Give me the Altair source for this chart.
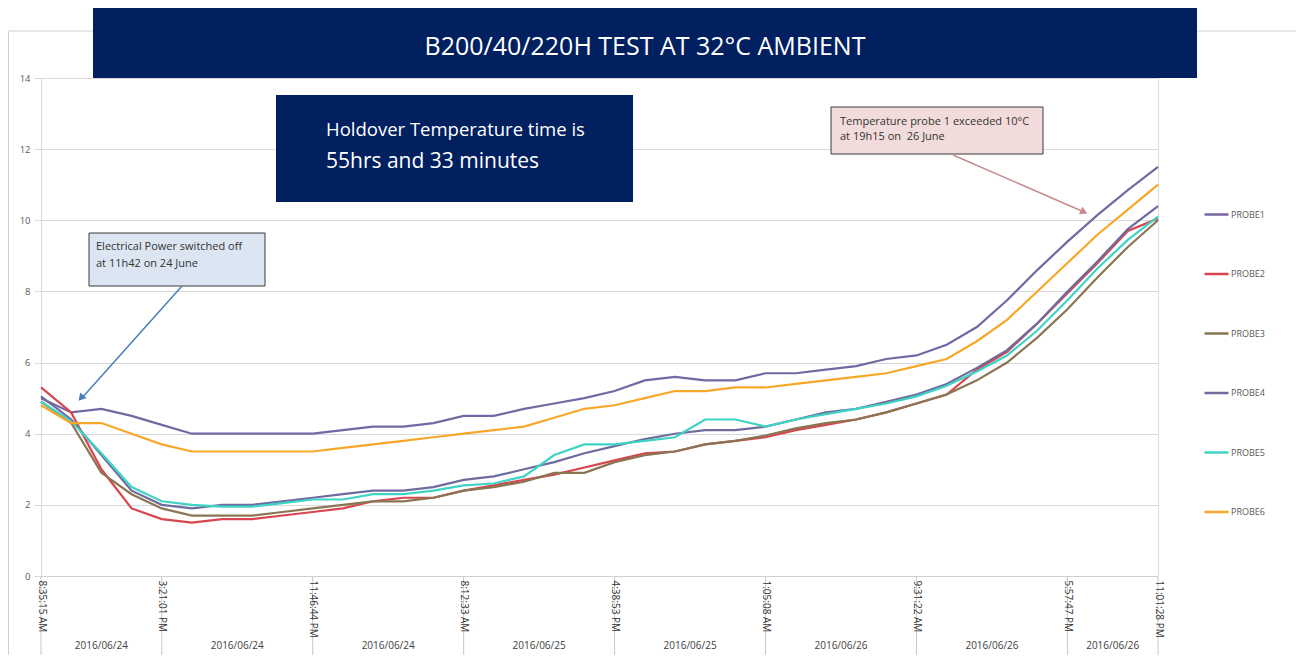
import altair as alt
import pandas as pd

# ---------------- data ----------------
probes = ["PROBE1", "PROBE2", "PROBE3", "PROBE4", "PROBE5", "PROBE6"]
colors = ["#7667a3", "#d9454f", "#8a7553", "#6e6b9e", "#3fd3c6", "#f7a829"]

probe1 = [5.0, 4.6, 4.7, 4.5, 4.25, 4.0, 4.0, 4.0, 4.0, 4.0, 4.1, 4.2, 4.2, 4.3, 4.5, 4.5, 4.7, 4.85, 5.0, 5.2,
          5.5, 5.6, 5.5, 5.5, 5.7, 5.7, 5.8, 5.9, 6.1, 6.2, 6.5, 7.0, 7.75, 8.6, 9.4, 10.15, 10.85, 11.5]
probe2 = [5.3, 4.6, 3.0, 1.9, 1.6, 1.5, 1.6, 1.6, 1.7, 1.8, 1.9, 2.1, 2.2, 2.2, 2.4, 2.55, 2.7, 2.85, 3.05, 3.25,
          3.45, 3.5, 3.7, 3.8, 3.9, 4.1, 4.25, 4.4, 4.6, 4.85, 5.1, 5.8, 6.3, 7.1, 7.95, 8.8, 9.7, 10.05]
probe3 = [4.9, 4.3, 2.9, 2.3, 1.9, 1.7, 1.7, 1.7, 1.8, 1.9, 2.0, 2.1, 2.1, 2.2, 2.4, 2.5, 2.65, 2.9, 2.9, 3.2,
          3.4, 3.5, 3.7, 3.8, 3.95, 4.15, 4.3, 4.4, 4.6, 4.85, 5.1, 5.5, 6.0, 6.7, 7.5, 8.4, 9.25, 10.0]
probe4 = [5.05, 4.4, 3.4, 2.4, 2.0, 1.9, 2.0, 2.0, 2.1, 2.2, 2.3, 2.4, 2.4, 2.5, 2.7, 2.8, 3.0, 3.2, 3.45, 3.65,
          3.85, 4.0, 4.1, 4.1, 4.2, 4.4, 4.6, 4.7, 4.9, 5.1, 5.4, 5.85, 6.35, 7.1, 8.0, 8.85, 9.75, 10.4]
probe5 = [4.9, 4.35, 3.45, 2.5, 2.1, 2.0, 1.95, 1.95, 2.05, 2.15, 2.15, 2.3, 2.3, 2.4, 2.55, 2.6, 2.8, 3.4, 3.7, 3.7,
          3.8, 3.9, 4.4, 4.4, 4.2, 4.4, 4.55, 4.7, 4.85, 5.05, 5.35, 5.75, 6.2, 6.9, 7.75, 8.65, 9.45, 10.1]
probe6 = [4.8, 4.3, 4.3, 4.0, 3.7, 3.5, 3.5, 3.5, 3.5, 3.5, 3.6, 3.7, 3.8, 3.9, 4.0, 4.1, 4.2, 4.45, 4.7, 4.8,
          5.0, 5.2, 5.2, 5.3, 5.3, 5.4, 5.5, 5.6, 5.7, 5.9, 6.1, 6.6, 7.2, 8.0, 8.8, 9.6, 10.3, 11.0]

# time-axis tick labels (sample index at which each label sits)
tick_idx = [0, 4, 9, 14, 19, 24, 29, 34, 37]
tick_labels = ["8:35:15 AM", "3:21:01 PM", "11:46:44 PM", "8:12:33 AM", "4:38:53 PM",
               "1:05:08 AM", "9:31:22 AM", "5:57:47 PM", "11:01:28 PM"]
date_labels = ["2016/06/24", "2016/06/24", "2016/06/24", "2016/06/25", "2016/06/25",
               "2016/06/26", "2016/06/26", "2016/06/26"]

title_text = "B200/40/220H TEST AT 32°C AMBIENT"
hold_line1 = "Holdover Temperature time is"
hold_line2 = "55hrs and 33 minutes"
note1 = ["Electrical Power switched off", "\u00a0at 11h42 on 24 June"]
note2 = ["Temperature probe 1 exceeded 10°C", "at 19h15 on \u00a026 June"]

# ---------------- tables ----------------
series = [probe1, probe2, probe3, probe4, probe5, probe6]
rows = []
for name, vals in zip(probes, series):
    for i, v in enumerate(vals):
        rows.append({"idx": i, "probe": name, "temp": v})
df = pd.DataFrame(rows)

sep_df = pd.DataFrame({"idx": tick_idx})
date_df = pd.DataFrame({
    "idx": [(a + b) / 2 for a, b in zip(tick_idx[:-1], tick_idx[1:])],
    "label": date_labels,
})
one = pd.DataFrame({"k": [0]})

W, H = 1117, 498
FONT = "Open Sans"
NAVY = "#002060"

label_expr = "[" + ",".join("'%s'" % s for s in tick_labels) + "][indexof([" + \
    ",".join(str(t) for t in tick_idx) + "], datum.value)]"

x_axis = alt.Axis(values=tick_idx, labelExpr=label_expr, labelAngle=90, title=None,
                  grid=False, ticks=False, domainColor="#d0d0d0", labelFont=FONT,
                  labelFontSize=10, labelColor="#333333", labelPadding=4, zindex=1)
x_scale = alt.Scale(domain=[0, 37], nice=False, zero=False)


def xenc():
    return alt.X("idx:Q", scale=x_scale, axis=x_axis)


lines = alt.Chart(df).mark_line(strokeWidth=2.2).encode(
    x=xenc(),
    y=alt.Y("temp:Q", scale=alt.Scale(domain=[0, 14], nice=False),
            axis=alt.Axis(values=list(range(0, 15, 2)), title=None, grid=True,
                          gridColor="#d9d9d9", tickColor="#d9d9d9", tickSize=7,
                          domainColor="#d9d9d9", labelFont=FONT, labelFontSize=9.5,
                          labelColor="#595959", labelPadding=4)),
    color=alt.Color("probe:N", scale=alt.Scale(domain=probes, range=colors),
                    legend=alt.Legend(title=None, orient="none", legendX=1162, legendY=123,
                                      symbolType="stroke", symbolSize=576, symbolStrokeWidth=2.5,
                                      rowPadding=40.5, labelFont=FONT, labelFontSize=9,
                                      labelColor="#595959", labelOffset=1, padding=0)),
)

separators = alt.Chart(sep_df).mark_rule(color="#c8c8c8", strokeWidth=1).encode(
    x=xenc(), y=alt.value(H), y2=alt.value(H + 85))

dates = alt.Chart(date_df).mark_text(font=FONT, fontSize=10, color="#404040",
                                     baseline="middle").encode(
    x=xenc(), y=alt.value(H + 70), text="label:N")


def rect(x, y, x2, y2, fill, stroke=None, sw=1):
    kw = dict(fill=fill)
    if stroke:
        kw.update(stroke=stroke, strokeWidth=sw)
    else:
        kw.update(strokeWidth=0)
    return alt.Chart(one).mark_rect(**kw).encode(
        x=alt.value(x), y=alt.value(y), x2=alt.value(x2), y2=alt.value(y2))


def txt(x, y, s, size, color, align="left", baseline="alphabetic"):
    return alt.Chart(one).mark_text(text=s, font=FONT, fontSize=size, color=color,
                                    align=align, baseline=baseline).encode(
        x=alt.value(x), y=alt.value(y))


def rule(x, y, x2, y2, color, sw=1.0):
    return alt.Chart(one).mark_rule(color=color, strokeWidth=sw).encode(
        x=alt.value(x), y=alt.value(y), x2=alt.value(x2), y2=alt.value(y2))


def head(x, y, angle, color):
    return alt.Chart(one).mark_point(shape="triangle-up", filled=True, size=70, angle=angle,
                                     color=color, opacity=1).encode(
        x=alt.value(x), y=alt.value(y))


# page -> plot coordinates: plot origin at page (41, 78)
deco = [
    rule(-32.5, -47, -32.5, H + 90, "#cfcfcf"),
    rule(-33, -47, W + 140, -47, "#cfcfcf"),
    rect(52, -70, 1156, 0, NAVY),
    txt(604, -31, title_text, 25, "white", align="center", baseline="middle"),
    rect(235, 17, 592, 124, NAVY),
    txt(285, 58, hold_line1, 18.5, "white"),
    txt(285, 90, hold_line2, 21, "white"),
    rect(48, 155, 224, 208, "#dce6f2", "#3a3a3a"),
    txt(55, 172, note1[0], 11, "#333333"),
    txt(55, 189, note1[1], 11, "#333333"),
    rule(141, 208, 40, 321, "#4a7ebb", 1.5),
    head(40, 320, 221, "#4a7ebb"),
    rect(790, 29, 1002, 76, "#f2dcdb", "#3a3a3a"),
    txt(799, 47, note2[0], 11, "#333333"),
    txt(799, 62, note2[1], 11, "#333333"),
    rule(912, 77, 1043, 134, "#c98a8c", 1.5),
    head(1043, 134, 114, "#c98a8c"),
]

chart = alt.layer(separators, lines, dates, *deco).properties(
    width=W, height=H,
    padding={"left": 33, "top": 70, "right": 138, "bottom": 79},
    autosize=alt.AutoSizeParams(type="none"),
).configure_view(strokeWidth=0).configure(background="white")

chart.save("out.html", embed_options={"renderer": "svg", "actions": False})
